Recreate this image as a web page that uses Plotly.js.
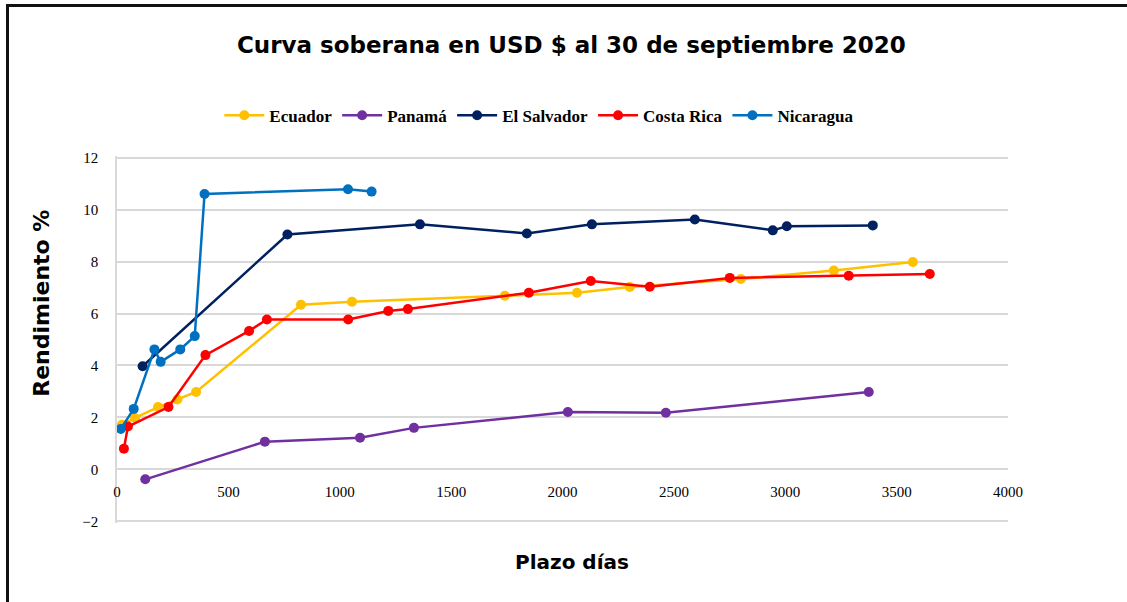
<!DOCTYPE html>
<html>
<head>
<meta charset="utf-8">
<script src="https://cdn.plot.ly/plotly-3.0.1.min.js"></script>
<style>
  html, body { margin: 0; padding: 0; background: #fff; }
  #wrap { position: relative; width: 1127px; height: 602px; }
  #curva { width: 1127px; height: 602px; }
  #marco { position: absolute; left: 6px; top: 4px; right: 0; bottom: 0;
           border-top: 3px solid #111; border-left: 3px solid #111; pointer-events: none; }
</style>
</head>
<body>
<div id="wrap">
  <div id="curva"></div>
  <div id="marco"></div>
</div>
<script>
// plazo en días / rendimiento %
const ecuadorX = [22, 81, 184, 271, 355, 826, 1055, 1741, 2065, 2302, 2801, 3218, 3573];
const ecuadorY = [1.72, 1.98, 2.4, 2.69, 2.98, 6.34, 6.45, 6.68, 6.8, 7.02, 7.33, 7.65, 7.98];

const panamaX = [127, 664, 1091, 1333, 2024, 2464, 3375];
const panamaY = [-0.38, 1.07, 1.22, 1.6, 2.21, 2.18, 2.98];

const salvadorX = [115, 765, 1360, 1840, 2132, 2594, 2944, 3007, 3393];
const salvadorY = [3.97, 9.04, 9.43, 9.08, 9.43, 9.62, 9.2, 9.36, 9.39];

const costaRicaX = [31, 49, 231, 397, 593, 673, 1038, 1218, 1306, 1849, 2127, 2392, 2751, 3285, 3649];
const costaRicaY = [0.8, 1.65, 2.4, 4.4, 5.33, 5.77, 5.77, 6.1, 6.17, 6.8, 7.25, 7.03, 7.37, 7.45, 7.52];

const nicaraguaX = [17, 75, 168, 196, 284, 349, 393, 1037, 1143];
const nicaraguaY = [1.56, 2.33, 4.62, 4.14, 4.62, 5.13, 10.6, 10.78, 10.69];

const serieTraza = (nombre, x, y, color) => ({
  name: nombre,
  x: x,
  y: y,
  type: "scatter",
  mode: "lines+markers",
  line: { color: color, width: 2.5 },
  marker: { color: color, size: 10 }
});

const trazas = [
  serieTraza("Ecuador", ecuadorX, ecuadorY, "#FFC000"),
  serieTraza("Panamá", panamaX, panamaY, "#7030A0"),
  serieTraza("El Salvador", salvadorX, salvadorY, "#002060"),
  serieTraza("Costa Rica", costaRicaX, costaRicaY, "#FF0000"),
  serieTraza("Nicaragua", nicaraguaX, nicaraguaY, "#0070C0")
];

const fuenteSerif = "Liberation Serif, DejaVu Serif, serif";
const fuenteTitulo = "DejaVu Sans, sans-serif";

Plotly.newPlot("curva", trazas, {
  width: 1127,
  height: 602,
  margin: { l: 117, r: 119, t: 156, b: 79 },
  paper_bgcolor: "#fff",
  plot_bgcolor: "#fff",
  title: {
    text: "<b>Curva soberana en USD $ al 30 de septiembre 2020</b>",
    font: { family: fuenteTitulo, size: 23, color: "#000" },
    x: 0.507,
    xanchor: "center",
    y: 0.925,
    yanchor: "middle"
  },
  showlegend: true,
  legend: {
    orientation: "h",
    x: 0.474,
    xanchor: "center",
    y: 1.11,
    yanchor: "middle",
    font: { family: fuenteSerif, size: 17, color: "#000", weight: "bold" },
    itemwidth: 40,
    tracegroupgap: 0
  },
  xaxis: {
    range: [0, 4000],
    dtick: 500,
    tick0: 0,
    anchor: "free",
    position: 0.1444,
    showgrid: false,
    showline: false,
    zeroline: false,
    ticks: "",
    ticklabelstandoff: 11,
    tickfont: { family: fuenteSerif, size: 15, color: "#000" }
  },
  yaxis: {
    range: [-2.06, 12.06],
    dtick: 2,
    tick0: 0,
    showgrid: true,
    gridcolor: "#d9d9d9",
    gridwidth: 1.5,
    zeroline: true,
    zerolinecolor: "#d9d9d9",
    zerolinewidth: 1.5,
    showline: true,
    linecolor: "#d9d9d9",
    linewidth: 1.5,
    ticks: "",
    ticklabelstandoff: 14,
    tickfont: { family: fuenteSerif, size: 15, color: "#000" }
  },
  annotations: [
    {
      text: "<b>Rendimiento %</b>",
      xref: "paper", yref: "paper",
      x: -0.0842, y: 0.6,
      xanchor: "center", yanchor: "middle",
      textangle: -90,
      showarrow: false,
      font: { family: fuenteTitulo, size: 22, color: "#000" }
    },
    {
      text: "<b>Plazo días</b>",
      xref: "paper", yref: "paper",
      x: 0.5107, y: -0.106,
      xanchor: "center", yanchor: "middle",
      showarrow: false,
      font: { family: fuenteTitulo, size: 20, color: "#000" }
    }
  ]
}, { displayModeBar: false });
</script>
</body>
</html>
